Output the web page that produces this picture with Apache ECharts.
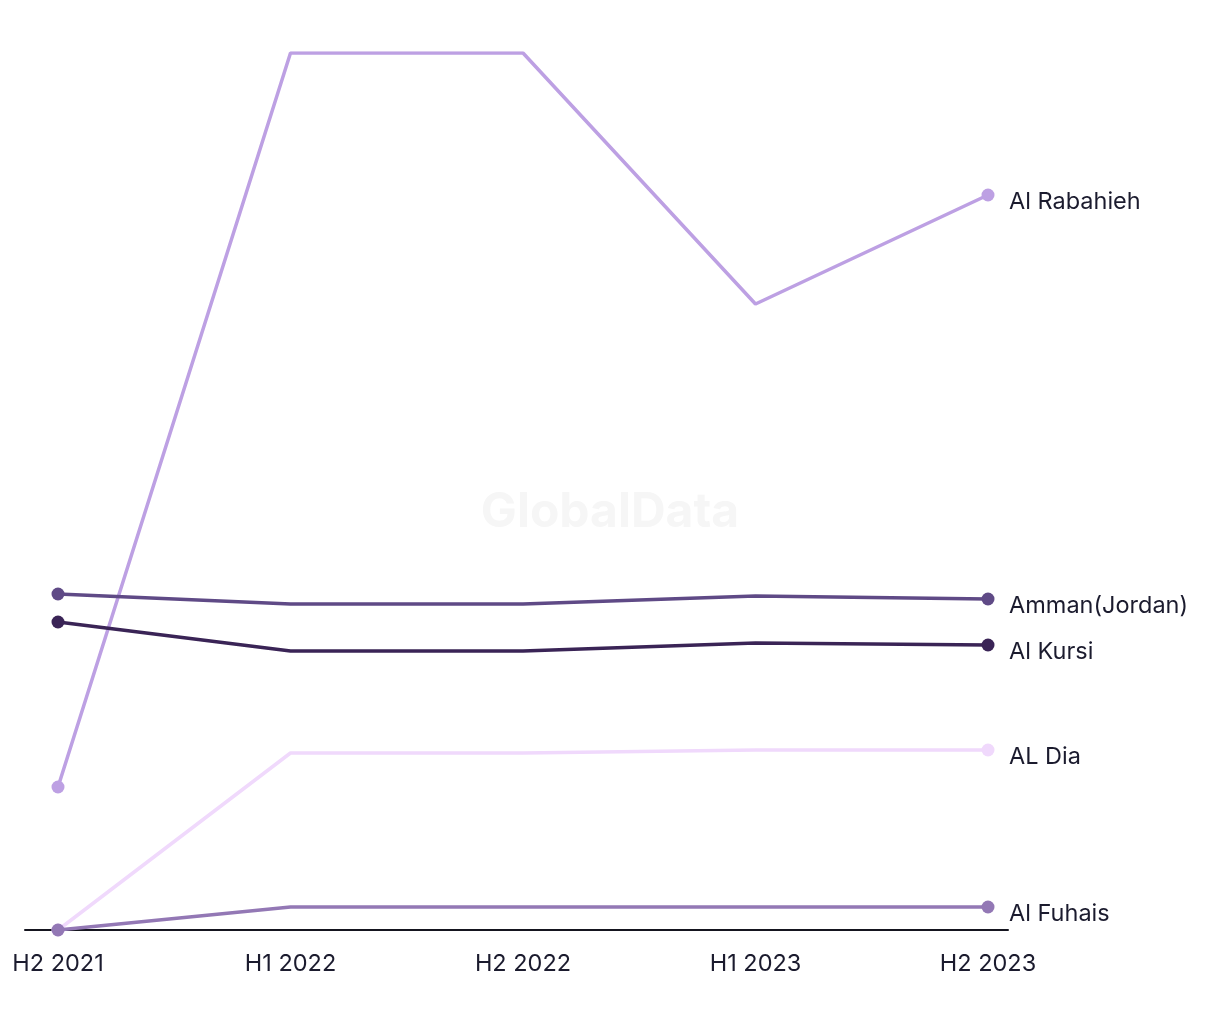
<!DOCTYPE html>
<html>
<head>
<meta charset="utf-8">
<script src="https://cdn.jsdelivr.net/npm/echarts@6/dist/echarts.min.js"></script>
<style>html,body{margin:0;padding:0;background:#fff;}#c{width:1220px;height:1020px;}</style>
</head>
<body>
<div id="c"></div>
<script>
const categories = ['H2 2021', 'H1 2022', 'H2 2022', 'H1 2023', 'H2 2023'];
const seriesNames = ['Al Rabahieh', 'Amman(Jordan)', 'Al Kursi', 'AL Dia', 'Al Fuhais'];
const alRabahieh = [14.3, 87.7, 87.7, 62.6, 73.5];
const amman = [33.6, 32.6, 32.6, 33.4, 33.1];
const alKursi = [30.8, 27.9, 27.9, 28.7, 28.5];
const alDia = [0, 17.7, 17.7, 18.0, 18.0];
const alFuhais = [0, 2.3, 2.3, 2.3, 2.3];
const colors = ['#bda0e3', '#5f4a86', '#3a2456', '#f0d9fc', '#9378b5'];
const values = [alRabahieh, amman, alKursi, alDia, alFuhais];

const FONT = 'Inter, "Noto Sans", sans-serif';
const chart = echarts.init(document.getElementById('c'));
const lastIdx = categories.length - 1;

chart.setOption({
  animation: false,
  backgroundColor: '#ffffff',
  graphic: [{
    type: 'text', left: 'center', top: 489, z: 0,
    style: { text: 'GlobalData', fill: '#f6f6f6', font: 'bold 48px Inter, "Liberation Sans", sans-serif' }
  }],
  grid: [
    { left: 58, right: 232, top: 53, bottom: 90, containLabel: false },
    { left: 25, right: 212, top: 53, bottom: 90, containLabel: false }
  ],
  xAxis: [
    {
      type: 'category', gridIndex: 0, data: categories, boundaryGap: false,
      axisLine: { show: false }, axisTick: { show: false }, splitLine: { show: false },
      axisLabel: { show: true, margin: 22, color: '#1b1b2e', fontSize: 23.5, fontFamily: FONT }
    },
    {
      type: 'value', gridIndex: 1, min: 0, max: 1,
      axisLine: { show: true, onZero: false, lineStyle: { color: '#15151f', width: 2 } },
      axisTick: { show: false }, axisLabel: { show: false }, splitLine: { show: false }
    }
  ],
  yAxis: [
    { type: 'value', gridIndex: 0, min: 0, max: 87.7, show: false, splitLine: { show: false } },
    { type: 'value', gridIndex: 1, min: 0, max: 1, show: false, splitLine: { show: false } }
  ],
  series: seriesNames.map((name, i) => ({
    name: name,
    type: 'line',
    xAxisIndex: 0, yAxisIndex: 0,
    data: values[i],
    z: 3 + i,
    color: colors[i],
    lineStyle: { width: 3.5, color: colors[i] },
    itemStyle: { color: colors[i] },
    symbol: 'circle',
    showSymbol: true,
    symbolSize: (v, p) => (p.dataIndex === 0 || p.dataIndex === lastIdx) ? 13 : 0,
    endLabel: {
      show: true, formatter: name, color: '#1b1b2e', fontSize: 23.5, fontFamily: FONT,
      distance: 21, offset: [0, 7]
    },
    emphasis: { disabled: true }
  }))
});
</script>
</body>
</html>
